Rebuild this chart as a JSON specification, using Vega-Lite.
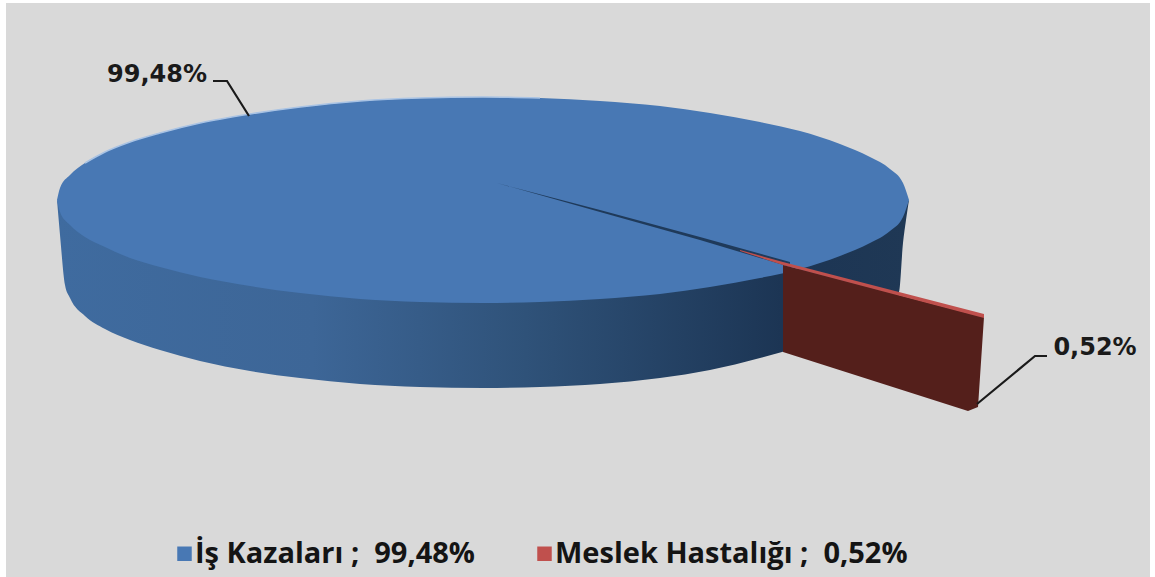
{
"$schema":"https://vega.github.io/schema/vega-lite/v6.json",
"width":1144,"height":574,"autosize":{"type":"none"},
"padding":{"left":6,"top":3,"right":5,"bottom":0},
"background":"#ffffff",
"config":{"view":{"fill":"#d9d9d9","stroke":null}},
"encoding":{
 "x":{"field":"x","type":"quantitative","scale":{"domain":[6,1150]},"axis":null},
 "y":{"field":"y","type":"quantitative","scale":{"domain":[577,3]},"axis":null}
},
"layer":[
{"data":{"values":[{"x":57,"y":200,"y2":200},{"x":60,"y":205,"y2":235},{"x":65,"y":212,"y2":285},{"x":70,"y":220,"y2":298},{"x":85,"y":230,"y2":316},{"x":105,"y":240,"y2":329},{"x":130,"y":250,"y2":340},{"x":160,"y":260,"y2":350},{"x":200,"y":270,"y2":361},{"x":250,"y":280,"y2":371},{"x":300,"y":287,"y2":378},{"x":360,"y":293,"y2":384},{"x":420,"y":296,"y2":387},{"x":483,"y":297,"y2":388},{"x":540,"y":296,"y2":387},{"x":600,"y":293,"y2":384},{"x":660,"y":288,"y2":378},{"x":710,"y":281,"y2":370},{"x":760,"y":272,"y2":358},{"x":782,"y":267,"y2":352},{"x":840,"y":250,"y2":330},{"x":870,"y":235,"y2":310},{"x":899,"y":210,"y2":292},{"x":903,"y":205,"y2":243},{"x":906,"y":203,"y2":220},{"x":909,"y":200,"y2":200}]},
 "mark":{"type":"area","interpolate":"monotone","color":{"gradient":"linear","x1":0,"y1":0,"x2":1,"y2":0,"stops":[{"offset":0,"color":"#3f6b9f"},{"offset":0.3,"color":"#3d6697"},{"offset":0.55,"color":"#2f5279"},{"offset":0.85,"color":"#1c3554"},{"offset":1,"color":"#1f3855"}]}},
 "encoding":{"y2":{"field":"y2"}}},
{"data":{"values":[{"x":57,"y":200,"y2":200,"slice":"İş Kazaları ; \u00a099,48%"},{"x":60,"y":188,"y2":212,"slice":"İş Kazaları ; \u00a099,48%"},{"x":70,"y":175,"y2":225,"slice":"İş Kazaları ; \u00a099,48%"},{"x":85,"y":163,"y2":237,"slice":"İş Kazaları ; \u00a099,48%"},{"x":105,"y":152,"y2":247,"slice":"İş Kazaları ; \u00a099,48%"},{"x":130,"y":142,"y2":258,"slice":"İş Kazaları ; \u00a099,48%"},{"x":160,"y":133,"y2":267,"slice":"İş Kazaları ; \u00a099,48%"},{"x":200,"y":123,"y2":277,"slice":"İş Kazaları ; \u00a099,48%"},{"x":250,"y":114,"y2":286,"slice":"İş Kazaları ; \u00a099,48%"},{"x":300,"y":107,"y2":293,"slice":"İş Kazaları ; \u00a099,48%"},{"x":360,"y":101,"y2":299,"slice":"İş Kazaları ; \u00a099,48%"},{"x":420,"y":98,"y2":302,"slice":"İş Kazaları ; \u00a099,48%"},{"x":483,"y":97,"y2":303,"slice":"İş Kazaları ; \u00a099,48%"},{"x":540,"y":98,"y2":302,"slice":"İş Kazaları ; \u00a099,48%"},{"x":600,"y":101,"y2":299,"slice":"İş Kazaları ; \u00a099,48%"},{"x":660,"y":106,"y2":294,"slice":"İş Kazaları ; \u00a099,48%"},{"x":710,"y":113,"y2":287,"slice":"İş Kazaları ; \u00a099,48%"},{"x":760,"y":122,"y2":278,"slice":"İş Kazaları ; \u00a099,48%"},{"x":800,"y":131,"y2":269,"slice":"İş Kazaları ; \u00a099,48%"},{"x":840,"y":144,"y2":256,"slice":"İş Kazaları ; \u00a099,48%"},{"x":870,"y":157,"y2":243,"slice":"İş Kazaları ; \u00a099,48%"},{"x":890,"y":169,"y2":231,"slice":"İş Kazaları ; \u00a099,48%"},{"x":903,"y":183,"y2":217,"slice":"İş Kazaları ; \u00a099,48%"},{"x":909,"y":200,"y2":200,"slice":"İş Kazaları ; \u00a099,48%"}]},
 "mark":{"type":"area","interpolate":"monotone"},
 "encoding":{"y2":{"field":"y2"},
  "color":{"field":"slice","type":"nominal","scale":{"domain":["İş Kazaları ; \u00a099,48%","Meslek Hastalığı ; \u00a00,52%"],"range":["#4878b4","#c0504d"]},
   "legend":{"title":null,"orient":"none","legendX":164,"legendY":536,"direction":"horizontal","columns":2,"symbolType":"square","symbolSize":210,"symbolStrokeWidth":0,"labelFont":"Open Sans","labelFontSize":29,"labelFontWeight":700,"labelColor":"#141414","labelLimit":600,"columnPadding":55,"labelOffset":-4,"padding":0}}}},
{"data":{"values":[{"x":85,"y":163},{"x":105,"y":152},{"x":130,"y":142},{"x":160,"y":133},{"x":200,"y":123},{"x":250,"y":114},{"x":300,"y":107},{"x":360,"y":101},{"x":420,"y":98},{"x":483,"y":97},{"x":540,"y":98}]},
 "mark":{"type":"line","color":"#a9c3e4","strokeWidth":1.5,"interpolate":"monotone"}},
{"data":{"values":[{"x":497,"y":183,"y2":183},{"x":600,"y":210,"y2":212},{"x":700,"y":237,"y2":240},{"x":790,"y":262,"y2":267}]},
 "mark":{"type":"area","color":"#1f3a5a"},
 "encoding":{"y2":{"field":"y2"}}},
{"data":{"values":[{"x":783,"y":265,"y2":352},{"x":968,"y":313,"y2":411},{"x":978,"y":315,"y2":407},{"x":984,"y":317,"y2":317}]},
 "mark":{"type":"area","color":"#541f1b"},
 "encoding":{"y2":{"field":"y2"}}},
{"data":{"values":[{"x":740,"y":250,"y2":251,"slice":"Meslek Hastalığı ; \u00a00,52%"},{"x":783,"y":262,"y2":265,"slice":"Meslek Hastalığı ; \u00a00,52%"},{"x":984,"y":314,"y2":318,"slice":"Meslek Hastalığı ; \u00a00,52%"}]},
 "mark":{"type":"area"},
 "encoding":{"y2":{"field":"y2"},"color":{"field":"slice","type":"nominal"}}},
{"data":{"values":[{"x":213,"y":81,"leader":"a"},{"x":227,"y":81,"leader":"a"},{"x":249,"y":116,"leader":"a"},{"x":977,"y":404,"leader":"b"},{"x":1035,"y":356,"leader":"b"},{"x":1047,"y":356,"leader":"b"}]},
 "mark":{"type":"line","color":"#1a1a1a","strokeWidth":2.2},
 "encoding":{"detail":{"field":"leader"}}},
{"data":{"values":[{"x":157,"y":75,"label":"99,48%"},{"x":1095,"y":348,"label":"0,52%"}]},
 "mark":{"type":"text","font":"DejaVu Sans","fontWeight":"bold","fontSize":24,"color":"#1a1a1a","align":"center","baseline":"middle"},
 "encoding":{"text":{"field":"label"}}}
]
}
